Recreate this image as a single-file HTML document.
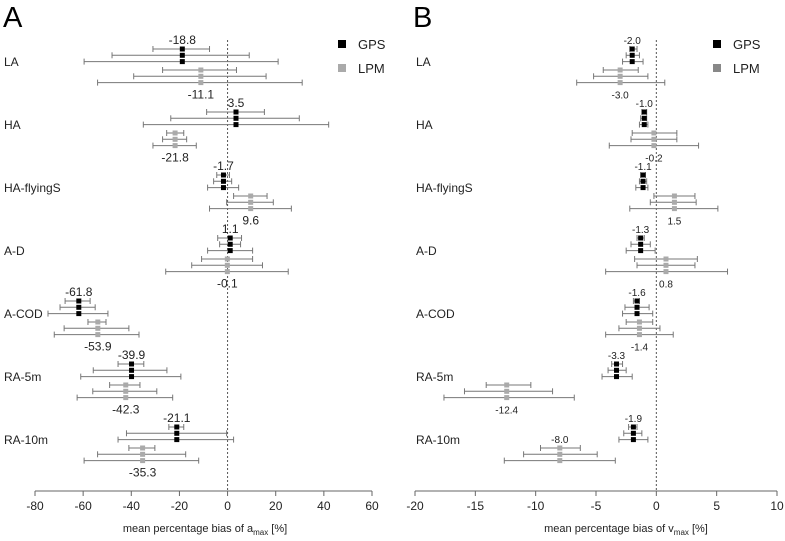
<!DOCTYPE html>
<html><head><meta charset="utf-8">
<style>
body{margin:0;background:#fff;}
svg{display:block;font-family:"Liberation Sans",Arial,sans-serif;}
</style></head>
<body>
<svg id="chart" width="785" height="541" viewBox="0 0 785 541" xmlns="http://www.w3.org/2000/svg">
</svg>
<script>
const categories = ["LA","HA","HA-flyingS","A-D","A-COD","RA-5m","RA-10m"];
// Panel A (a_max)
const gpsMeanA = [-18.8, 3.5, -1.7, 1.1, -61.8, -39.9, -21.1];
const gpsBarsA = [
 [[-31,-7.5],[-48,9],[-59.6,21]],
 [[-8.7,15.3],[-23.6,29.8],[-35,42]],
 [[-4.5,0.8],[-5.8,1.7],[-8.3,4.6]],
 [[-4.1,5.8],[-3.3,5.4],[-8.3,10.4]],
 [[-67.5,-57.1],[-69.6,-55],[-74.6,-49.7]],
 [[-45.5,-34.8],[-55.8,-25.2],[-61,-19.4]],
 [[-24.4,-18.2],[-42,-0.4],[-45.5,2.5]]
];
const lpmMeanA = [-11.1, -21.8, 9.6, -0.1, -53.9, -42.3, -35.3];
const lpmBarsA = [
 [[-27,3.7],[-39,16],[-54,31]],
 [[-25.3,-18.2],[-27,-17],[-31,-13]],
 [[2.5,16.4],[-0.4,19],[-7.5,26.5]],
 [[-10.8,10.4],[-14.9,14.5],[-25.7,25.2]],
 [[-58,-50.5],[-67.9,-41],[-72,-36.8]],
 [[-49,-36.4],[-56,-29.4],[-62.5,-22.8]],
 [[-41,-30.2],[-54,-17.4],[-59.6,-12]]
];
const ticksA = [-80,-60,-40,-20,0,20,40,60];
// Panel B (v_max)
const gpsMeanB = [-2.0, -1.0, -1.1, -1.3, -1.6, -3.3, -1.9];
const gpsBarsB = [
 [[-2.2,-1.6],[-2.5,-1.4],[-2.8,-1.1]],
 [[-1.2,-0.8],[-1.3,-0.8],[-1.4,-0.7]],
 [[-1.3,-0.9],[-1.4,-0.8],[-1.7,-0.7]],
 [[-1.6,-1.0],[-2.1,-0.5],[-2.5,-0.1]],
 [[-1.9,-1.4],[-2.6,-0.6],[-2.8,-0.3]],
 [[-3.7,-2.8],[-4.0,-2.5],[-4.5,-2.0]],
 [[-2.3,-1.6],[-2.7,-1.2],[-3.1,-0.7]]
];
const lpmMeanB = [-3.0, -0.2, 1.5, 0.8, -1.4, -12.4, -8.0];
const lpmBarsB = [
 [[-4.4,-1.5],[-5.2,-0.7],[-6.6,0.7]],
 [[-2.0,1.7],[-2.1,1.7],[-3.9,3.5]],
 [[-0.2,3.2],[-0.5,3.3],[-2.2,5.1]],
 [[-1.8,3.4],[-1.6,3.2],[-4.2,5.9]],
 [[-2.5,-0.3],[-3.1,0.3],[-4.2,1.4]],
 [[-14.1,-10.4],[-15.9,-8.6],[-17.6,-6.8]],
 [[-9.6,-6.3],[-11.0,-4.9],[-12.6,-3.4]]
];
const ticksB = [-20,-15,-10,-5,0,5,10];

const svg = document.getElementById('chart');
const NS = "http://www.w3.org/2000/svg";
function mk(tag, attrs, parent){
  const e = document.createElementNS(NS, tag);
  for (const k in attrs) e.setAttribute(k, attrs[k]);
  (parent||svg).appendChild(e);
  return e;
}
function rowY(i){ return 49 + i*63; }

function panel(cfg){
  const g = mk('g', {});
  
  
  const x = v => cfg.x0 + (v - cfg.dmin) / (cfg.dmax - cfg.dmin) * (cfg.x1 - cfg.x0);
  const L = mk('text', {x: cfg.letterX, y: 27, 'font-size': 29, fill: '#000'}, g);
  L.textContent = cfg.letter;
  
  
  const z = mk('line', {x1: x(0), x2: x(0), y1: 40, y2: 491, stroke: '#555', 'stroke-width': 1, 'stroke-dasharray': '2,2'}, g);
  
  
  const ax = mk('line', {x1: x(cfg.ticks[0]), x2: x(cfg.ticks[cfg.ticks.length-1]), y1: 491, y2: 491, stroke: '#666', 'stroke-width': 1}, g);
  
  
  cfg.ticks.forEach(t => {
    const tk = mk('line', {x1: x(t), x2: x(t), y1: 491, y2: 496, stroke: '#666'}, g);
    
    
    const tl = mk('text', {x: x(t), y: 510, 'font-size': 12, 'text-anchor': 'middle', fill: '#222'}, g);
    tl.textContent = t;
    
    
  });
  const title = mk('text', {x: cfg.titleX, y: 532, 'font-size': 11, 'text-anchor': 'middle', fill: '#222'}, g);
  title.innerHTML = cfg.title;
  
  

  categories.forEach((c, i) => {
    const y0 = rowY(i);
    const cl = mk('text', {x: cfg.labelX, y: y0 + 17, 'font-size': cfg.catSize, fill: '#222'}, g);
    cl.textContent = c;
    
    
    const series = [
      {bars: cfg.gpsBars[i], mean: cfg.gpsMean[i], off: 0, color: '#000', name: 'gps'},
      {bars: cfg.lpmBars[i], mean: cfg.lpmMean[i], off: 21, color: '#aaa', name: 'lpm'}
    ];
    series.forEach(s => {
      s.bars.forEach((b, k) => {
        const yy = y0 + s.off + k * 6.3;
        const ln = mk('line', {x1: x(b[0]), x2: x(b[1]), y1: yy, y2: yy, stroke: '#777', 'stroke-width': 1}, g);
        
        
        [b[0], b[1]].forEach(v => {
          const cap = mk('line', {x1: x(v), x2: x(v), y1: yy - 3, y2: yy + 3, stroke: '#777'}, g);
          
          
        });
        const m = mk('rect', {x: x(s.mean) - cfg.mk/2, y: yy - cfg.mk/2, width: cfg.mk, height: cfg.mk, fill: s.color}, g);
        
        
      });
      let ly = s.off === 0 ? y0 - 5 : y0 + s.off + 12.6 + 16;
      if (s.off !== 0 && cfg.lpmAboveIdx === i) ly = y0 + s.off - 5;
      const vl = mk('text', {x: x(s.mean), y: ly, 'font-size': cfg.valSize, 'text-anchor': 'middle', fill: '#222'}, g);
      vl.textContent = s.mean.toFixed(1);
      
      
    });
  });
  [['GPS', '#000', 44], ['LPM', cfg.legLpm, 68]].forEach(e => {
    const r = mk('rect', {x: cfg.legX, y: e[2] - 4, width: 8, height: 8, fill: e[1]}, g);
    
    
    const t = mk('text', {x: cfg.legX + 20, y: e[2] + 5, 'font-size': 13, fill: '#222'}, g);
    t.textContent = e[0];
    
    
  });
}

panel({name: 'panel-a', letter: 'A', letterX: 3, x0: 35, x1: 372, dmin: -80, dmax: 60, ticks: ticksA,
  gpsMean: gpsMeanA, gpsBars: gpsBarsA, lpmMean: lpmMeanA, lpmBars: lpmBarsA,
  labelX: 4, catSize: 12, valSize: 12, mk: 5, legX: 338, legLpm: '#aaa', titleX: 205, lpmAboveIdx: -1,
  title: 'mean percentage bias of a<tspan font-size="8" dy="3">max</tspan><tspan dy="-3"> [%]</tspan>'});
panel({name: 'panel-b', letter: 'B', letterX: 413, x0: 415, x1: 777, dmin: -20, dmax: 10, ticks: ticksB,
  gpsMean: gpsMeanB, gpsBars: gpsBarsB, lpmMean: lpmMeanB, lpmBars: lpmBarsB,
  labelX: 416, catSize: 12, valSize: 10, mk: 5, legX: 713, legLpm: '#888', titleX: 626, lpmAboveIdx: 6,
  title: 'mean percentage bias of v<tspan font-size="8" dy="3">max</tspan><tspan dy="-3"> [%]</tspan>'});
</script>
</body></html>
